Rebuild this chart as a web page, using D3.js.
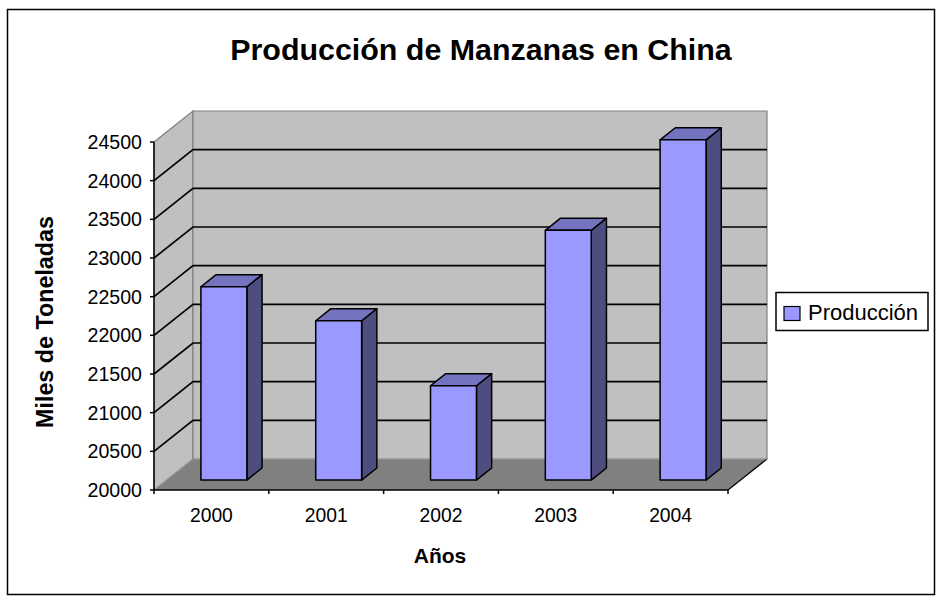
<!DOCTYPE html>
<html><head><meta charset="utf-8">
<script src="https://cdn.jsdelivr.net/npm/d3@7"></script>
<style>body{margin:0;background:#fff}svg{display:block;font-family:"Liberation Sans",Arial,sans-serif}</style>
</head><body>
<svg id="c" width="937" height="597"></svg>
<script>
const categories = ["2000","2001","2002","2003","2004"];
const values = [22500, 22060, 21220, 23230, 24400];
const yTicks = [20000,20500,21000,21500,22000,22500,23000,23500,24000,24500];
const seriesName = "Producción";
const titleText = "Producción de Manzanas en China";
const xTitle = "Años";
const yTitle = "Miles de Toneladas";

const svg = d3.select("#c");
const D = {x:39, y:-31};           // depth vector of floor
const t0 = 0.32, tb = 0.39;         // bar depth position/size
const x = d3.scaleBand().domain(categories).range([154,728]).paddingInner(0.6).paddingOuter(0.3);
const xc = d3.scaleBand().domain(categories).range([154,728]);
const y = d3.scaleLinear().domain([20000,24500]).range([490,142]);

// outer border
svg.append("rect").attr("x",7.5).attr("y",9.5).attr("width",927).attr("height",585)
  .attr("fill","#fff").attr("stroke","#000").attr("stroke-width",1.5);

const X0 = 154, X1 = 728, Y0 = y(20000), YT = y(24500);
const line = d3.line();
// left wall
svg.append("path").attr("d", line([[X0,YT],[X0+D.x,YT+D.y],[X0+D.x,Y0+D.y],[X0,Y0]])+"Z")
  .attr("fill","#c0c0c0").attr("stroke","#808080").attr("stroke-width",1.2);
// back wall
svg.append("path").attr("d", line([[X0+D.x,YT+D.y],[X1+D.x,YT+D.y],[X1+D.x,Y0+D.y],[X0+D.x,Y0+D.y]])+"Z")
  .attr("fill","#c0c0c0").attr("stroke","#808080").attr("stroke-width",1.2);
// floor
svg.append("path").attr("d", line([[X0,Y0],[X1,Y0],[X1+D.x,Y0+D.y],[X0+D.x,Y0+D.y]])+"Z")
  .attr("fill","#808080").attr("stroke","none");
svg.append("path").attr("d", line([[X1,Y0],[X1+D.x,Y0+D.y]])).attr("stroke","#000").attr("stroke-width",1.2);
svg.append("path").attr("d", line([[X0,Y0],[X0+D.x,Y0+D.y],[X1+D.x,Y0+D.y]])).attr("fill","none").attr("stroke","#a0a0a0").attr("stroke-width",1);

// gridlines
const gv = yTicks.filter(v => v>20000 && v<24500);
const g = svg.append("g").attr("stroke","#000").attr("stroke-width",1.7).attr("fill","none");
gv.forEach(v => {
  g.append("path").attr("d", line([[X0,y(v)],[X0+D.x,y(v)+D.y],[X1+D.x,y(v)+D.y]]));
});

// bars
const bars = svg.append("g").attr("stroke","#000").attr("stroke-width",1.5).attr("stroke-linejoin","round");
categories.forEach((c,i) => {
  const w = x.bandwidth();
  const x0 = x(c) + t0*D.x, yb = Y0 + t0*D.y;
  const h = Y0 - y(values[i]);
  const yt = yb - h;
  const dx = tb*D.x, dy = tb*D.y;
  bars.append("path").attr("d", line([[x0+w,yt],[x0+w+dx,yt+dy],[x0+w+dx,yb+dy],[x0+w,yb]])+"Z").attr("fill","#4d4d80");
  bars.append("path").attr("d", line([[x0,yt],[x0+w,yt],[x0+w+dx,yt+dy],[x0+dx,yt+dy]])+"Z").attr("fill","#7373bf");
  bars.append("rect").attr("x",x0).attr("y",yt).attr("width",w).attr("height",h).attr("fill","#9999ff");
});

// y axis
const ya = svg.append("g");
ya.append("line").attr("x1",X0).attr("x2",X0).attr("y1",YT).attr("y2",Y0).attr("stroke","#000").attr("stroke-width",1.5);
yTicks.forEach(v => {
  ya.append("line").attr("x1",X0-4).attr("x2",X0).attr("y1",y(v)).attr("y2",y(v)).attr("stroke","#000").attr("stroke-width",1.5);
  ya.append("text").attr("x",142).attr("y",y(v)).attr("dy","0.36em").attr("text-anchor","end")
    .attr("font-size",19.6).text(v);
});
// x axis
const xa = svg.append("g");
xa.append("line").attr("x1",X0).attr("x2",X1).attr("y1",Y0).attr("y2",Y0).attr("stroke","#000").attr("stroke-width",1.5);
const bounds = categories.map(c => xc(c)).concat([X1]);
bounds.forEach(b => xa.append("line").attr("x1",b).attr("x2",b).attr("y1",Y0).attr("y2",Y0+4).attr("stroke","#000").attr("stroke-width",1.5));
categories.forEach(c => xa.append("text").attr("x",xc(c)+xc.bandwidth()/2).attr("y",521.5)
  .attr("text-anchor","middle").attr("font-size",19.3).text(c));

// titles
svg.append("text").attr("x",481).attr("y",60).attr("text-anchor","middle").attr("font-weight","bold").attr("font-size",30.4).text(titleText);
svg.append("text").attr("x",440).attr("y",563).attr("text-anchor","middle").attr("font-weight","bold").attr("font-size",21).text(xTitle);
svg.append("text").attr("transform","translate(53,322) rotate(-90)").attr("text-anchor","middle").attr("font-weight","bold").attr("font-size",23.3).text(yTitle);

// legend
const lg = svg.append("g");
lg.append("rect").attr("x",776).attr("y",292.5).attr("width",152).attr("height",38).attr("fill","#fff").attr("stroke","#000").attr("stroke-width",1.5);
lg.append("rect").attr("x",784).attr("y",306.5).attr("width",16).attr("height",14).attr("fill","#9999ff").attr("stroke","#000").attr("stroke-width",1.2);
lg.append("text").attr("x",808).attr("y",320).attr("font-size",22).text(seriesName);
</script>
</body></html>
